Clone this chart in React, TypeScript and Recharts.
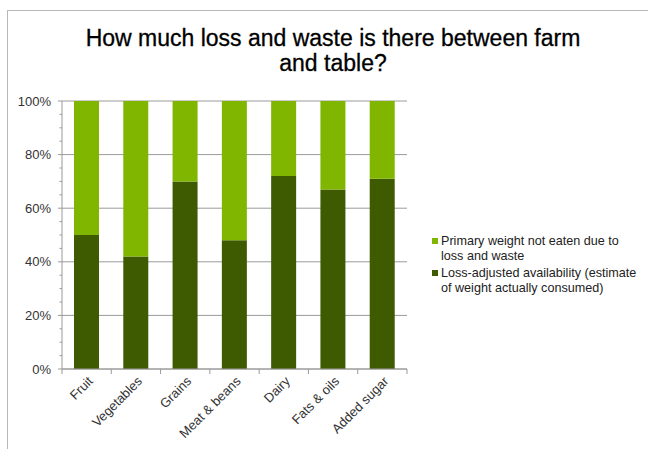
import React from "react";
import { BarChart, Bar, XAxis, YAxis, CartesianGrid } from "recharts";

const categories = ["Fruit", "Vegetables", "Grains", "Meat & beans", "Dairy", "Fats & oils", "Added sugar"];
const consumed = [50, 42, 70, 48, 72, 67, 71];
const notEaten = [50, 58, 30, 52, 28, 33, 29];
const yTicks = [0, 5, 10, 15, 20, 25, 30, 35, 40, 45, 50, 55, 60, 65, 70, 75, 80, 85, 90, 95, 100];
const majorTicks = [0, 20, 40, 60, 80, 100];

const data = categories.map((name, i) => ({
  name,
  consumed: consumed[i],
  notEaten: notEaten[i],
}));

const LIGHT = "#80b500";
const DARK = "#3e5b02";
const AXIS = "#9a9a9a";
const FONT = "'Liberation Sans', Arial, sans-serif";

const W = 648;
const H = 449;
const PLOT_LEFT = 62;
const PLOT_RIGHT = 407;
const HALF_BAND = (PLOT_RIGHT - PLOT_LEFT) / categories.length / 2;

const YTick = (props: any) => {
  const { x, y, payload } = props;
  const major = payload.value % 20 === 0;
  return (
    <g>
      <line x1={x - (major ? 4 : 2.5)} x2={x} y1={y} y2={y} stroke={AXIS} />
      {major && (
        <text x={x - 11} y={y} dy={4.5} textAnchor="end" fontSize={13} fill="#333" fontFamily={FONT}>
          {payload.value}%
        </text>
      )}
    </g>
  );
};

const XTick = (props: any) => {
  const { x, y, payload, index } = props;
  const last = index === categories.length - 1;
  const tx = x + 7;
  const ty = y + 13;
  return (
    <g>
      <line x1={x - HALF_BAND} x2={x - HALF_BAND} y1={y} y2={y + 5} stroke={AXIS} />
      {last && <line x1={x + HALF_BAND} x2={x + HALF_BAND} y1={y} y2={y + 5} stroke={AXIS} />}
      <text
        x={tx}
        y={ty}
        textAnchor="end"
        fontSize={13}
        fill="#333"
        fontFamily={FONT}
        transform={`rotate(-45, ${tx}, ${ty})`}
      >
        {payload.value}
      </text>
    </g>
  );
};

const App = () => {
  return (
    <div style={{ position: "absolute", left: 0, top: 0, width: W, height: H, background: "#fff", fontFamily: FONT }}>
      <div
        style={{
          position: "absolute",
          left: 7,
          top: 10,
          width: W,
          height: H,
          borderTop: "1.5px solid #b8b8b8",
          borderLeft: "1.5px solid #b8b8b8",
        }}
      />
      <div
        style={{
          position: "absolute",
          left: 33,
          width: 600,
          top: 26,
          textAlign: "center",
          fontSize: 23,
          lineHeight: "25px",
          color: "#000",
          WebkitTextStroke: "0.3px #000",
        }}
      >
        How much loss and waste is there between farm
        <br />
        and table?
      </div>
      <BarChart
        width={W}
        height={H}
        data={data}
        margin={{ top: 101, right: W - PLOT_RIGHT, left: 12, bottom: 10 }}
        style={{ position: "absolute", left: 0, top: 0 }}
      >
        <CartesianGrid vertical={false} stroke={AXIS} horizontalValues={majorTicks} />
        <XAxis
          dataKey="name"
          axisLine={{ stroke: AXIS }}
          tickLine={false}
          tick={<XTick />}
          interval={0}
          height={70}
          tickSize={0}
          tickMargin={0}
        />
        <YAxis
          domain={[0, 100]}
          ticks={yTicks}
          interval={0}
          width={50}
          axisLine={{ stroke: AXIS }}
          tickLine={false}
          tick={<YTick />}
          tickSize={0}
          tickMargin={0}
        />
        <Bar dataKey="consumed" stackId="a" fill={DARK} barSize={25} isAnimationActive={false} />
        <Bar dataKey="notEaten" stackId="a" fill={LIGHT} barSize={25} isAnimationActive={false} />
      </BarChart>
      <div style={{ position: "absolute", left: 432, top: 234, fontSize: 12.6, lineHeight: "15px", color: "#222" }}>
        <div style={{ position: "relative", paddingLeft: 9 }}>
          <span style={{ position: "absolute", left: 0, top: 4, width: 6, height: 6, background: LIGHT }} />
          Primary weight not eaten due to
          <br />
          loss and waste
        </div>
        <div style={{ position: "relative", paddingLeft: 9, marginTop: 2 }}>
          <span style={{ position: "absolute", left: 0, top: 4, width: 6, height: 6, background: DARK }} />
          Loss-adjusted availability (estimate
          <br />
          of weight actually consumed)
        </div>
      </div>
    </div>
  );
};

export default App;
